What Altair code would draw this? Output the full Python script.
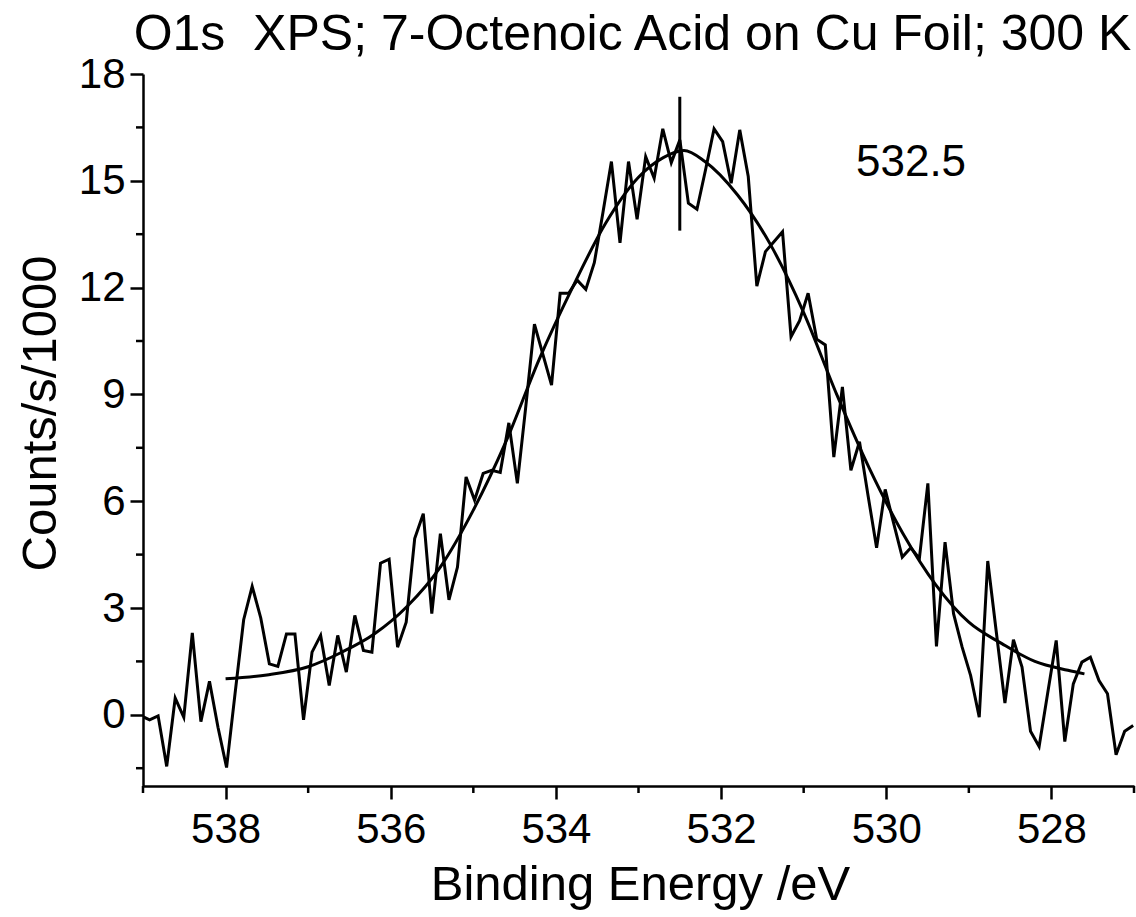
import altair as alt
import pandas as pd

# ---- data ----
energy = [539.024, 538.920, 538.817, 538.713, 538.610, 538.506, 538.403, 538.299, 538.195, 538.092,
          537.988, 537.885, 537.781, 537.678, 537.574, 537.470, 537.367, 537.263, 537.160, 537.056,
          536.953, 536.849, 536.745, 536.642, 536.538, 536.435, 536.331, 536.228, 536.124, 536.020,
          535.917, 535.813, 535.710, 535.606, 535.503, 535.399, 535.295, 535.192, 535.088, 534.985,
          534.881, 534.778, 534.674, 534.570, 534.467, 534.363, 534.260, 534.156, 534.053, 533.949,
          533.846, 533.742, 533.638, 533.535, 533.431, 533.328, 533.224, 533.121, 533.017, 532.913,
          532.810, 532.706, 532.603, 532.499, 532.396, 532.292, 532.188, 532.085, 531.981, 531.878,
          531.774, 531.671, 531.567, 531.463, 531.360, 531.256, 531.153, 531.049, 530.946, 530.842,
          530.738, 530.635, 530.531, 530.428, 530.324, 530.221, 530.117, 530.013, 529.910, 529.806,
          529.703, 529.599, 529.496, 529.392, 529.288, 529.185, 529.081, 528.978, 528.874, 528.771,
          528.667, 528.563, 528.460, 528.356, 528.253, 528.149, 528.046, 527.942, 527.838, 527.735,
          527.631, 527.528, 527.424, 527.321, 527.217, 527.113, 527.010]
counts = [-0.03, -0.14, -0.03, -1.45, 0.47, -0.07, 2.30, -0.19, 0.94, -0.35,
          -1.48, 0.60, 2.67, 3.61, 2.72, 1.43, 1.36, 2.27, 2.27, -0.14,
          1.76, 2.23, 0.82, 2.23, 1.20, 2.79, 1.81, 1.76, 4.26, 4.37,
          1.90, 2.60, 4.95, 5.65, 2.84, 5.09, 3.23, 4.15, 6.68, 6.03,
          6.78, 6.87, 6.81, 8.20, 6.50, 8.70, 10.97, 10.11, 9.26, 11.84,
          11.84, 12.21, 11.95, 12.70, 14.10, 15.54, 13.26, 15.54, 13.92, 15.68,
          15.07, 16.46, 15.51, 16.15, 14.37, 14.20, 15.31, 16.46, 16.10, 14.93,
          16.43, 15.12, 12.04, 13.01, 13.29, 13.57, 10.62, 11.07, 11.84, 10.55,
          10.39, 7.24, 9.21, 6.87, 7.67, 6.17, 4.69, 6.33, 5.38, 4.43,
          4.69, 4.39, 6.50, 1.92, 4.85, 2.84, 1.90, 1.10, -0.07, 4.32,
          2.32, 0.33, 2.11, 1.34, -0.46, -0.89, 0.60, 2.09, -0.75, 0.87,
          1.48, 1.62, 0.96, 0.59, -1.12, -0.46, -0.30]

fit_energy = [538.0, 537.5, 537.0, 536.6, 536.2, 535.8, 535.4, 535.0, 534.6, 534.2,
              533.8, 533.4, 533.0, 532.7, 532.45, 532.2, 531.8, 531.4, 531.0, 530.6,
              530.2, 529.8, 529.4, 529.0, 528.6, 528.2, 527.8, 527.6]
fit_counts = [1.01, 1.12, 1.35, 1.75, 2.27, 3.05, 4.15, 5.75, 7.7, 10.0,
              12.0, 13.8, 15.1, 15.65, 15.85, 15.55, 14.6, 13.2, 11.3, 9.0,
              6.9, 5.1, 3.65, 2.6, 2.0, 1.5, 1.25, 1.15]

marker_energy = [532.5]
marker_low = [13.6]
marker_high = [17.36]

label_text = ["532.5"]
label_energy = [529.7]
label_counts = [15.5]

x_major = [538, 536, 534, 532, 530, 528]
x_minor = [539, 537, 535, 533, 531, 529, 527]
y_major = [0, 3, 6, 9, 12, 15, 18]
y_minor = [-1.5, 1.5, 4.5, 7.5, 10.5, 13.5, 16.5]

title_text = "O1s\u00a0 XPS; 7-Octenoic Acid on Cu Foil; 300 K"
FONT = "Liberation Sans"
W, H = 991, 712

spec_df = pd.DataFrame({"e": energy, "v": counts})
fit_df = pd.DataFrame({"e": fit_energy, "v": fit_counts})
mark_df = pd.DataFrame({"e": marker_energy, "v": marker_low, "hi": marker_high})
lab_df = pd.DataFrame({"e": label_energy, "v": label_counts, "t": label_text})
xmin_df = pd.DataFrame({"e": x_minor})
ymin_df = pd.DataFrame({"v": y_minor})

xs = alt.Scale(domain=[527, 539], reverse=True, nice=False, zero=False)
ys = alt.Scale(domain=[-2, 18], nice=False, zero=False)

x_axis = alt.Axis(values=x_major, tickSize=13, tickWidth=2.5, tickColor="black",
                  domainWidth=2.5, domainColor="black", grid=False,
                  labelFont=FONT, labelFontSize=42, labelColor="black", labelPadding=10,
                  labelFlush=False,
                  title="Binding Energy /eV", titleFont=FONT, titleFontSize=49,
                  titleFontWeight="normal", titleColor="black",
                  titleX=497, titleY=98, titleAlign="center", titleBaseline="middle")
y_axis = alt.Axis(values=y_major, tickSize=13, tickWidth=2.5, tickColor="black",
                  domainWidth=2.5, domainColor="black", grid=False,
                  labelFont=FONT, labelFontSize=42, labelColor="black", labelPadding=5,
                  labelFlush=False,
                  title="Counts/s/1000", titleFont=FONT, titleFontSize=49,
                  titleFontWeight="normal", titleColor="black",
                  titleX=-103, titleY=339, titleAngle=270, titleAlign="center",
                  titleBaseline="middle")

X = lambda f="e:Q": alt.X(f, scale=xs, axis=x_axis)
Y = lambda f="v:Q": alt.Y(f, scale=ys, axis=y_axis)

spectrum = alt.Chart(spec_df).mark_line(color="black", strokeWidth=3, clip=True).encode(
    x=X(), y=Y(),
)

fit = alt.Chart(fit_df).mark_line(color="black", strokeWidth=3, interpolate="monotone").encode(
    x=X(), y=Y(),
)

marker = alt.Chart(mark_df).mark_rule(color="black", strokeWidth=3).encode(
    x=X(), y=Y(), y2="hi:Q",
)

label = alt.Chart(lab_df).mark_text(font=FONT, fontSize=44, color="black",
                                    align="center", baseline="middle").encode(
    x=X(), y=Y(), text="t:N",
)

xminor = alt.Chart(xmin_df).mark_rule(color="black", strokeWidth=2.5).encode(
    x=X(),
    y=alt.value(H),
    y2=alt.value(H + 7),
)
yminor = alt.Chart(ymin_df).mark_rule(color="black", strokeWidth=2.5).encode(
    y=Y(),
    x=alt.value(-7),
    x2=alt.value(0),
)

chart = alt.layer(spectrum, fit, marker, label, xminor, yminor).properties(
    width=W, height=H,
    autosize="none",
    background="white",
    padding={"left": 143, "top": 74, "right": 2, "bottom": 131},
    title=alt.TitleParams(title_text, font=FONT, fontSize=50, fontWeight="normal",
                          color="black", anchor="middle", frame="group",
                          baseline="alphabetic", offset=4, dy=51, dx=-6),
).configure_view(stroke=None)

chart.save("out.html", embed_options={"renderer": "svg", "actions": False})
